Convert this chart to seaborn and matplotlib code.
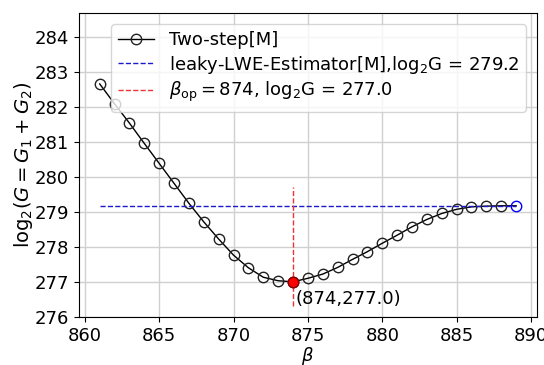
import matplotlib
matplotlib.use("Agg")
import matplotlib.pyplot as plt
import seaborn as sns
import numpy as np

# Daten: beta und log2(G) fuer Two-step[M]
beta = [861, 862, 863, 864, 865, 866, 867, 868, 869, 870,
        871, 872, 873, 874, 875, 876, 877, 878, 879, 880,
        881, 882, 883, 884, 885, 886, 887, 888, 889]
log_g = [282.65, 282.08, 281.53, 280.95, 280.38, 279.81, 279.24, 278.71, 278.22, 277.76,
         277.40, 277.13, 277.03, 277.00, 277.10, 277.22, 277.41, 277.64, 277.86, 278.10,
         278.33, 278.57, 278.78, 278.95, 279.07, 279.14, 279.16, 279.17, 279.17]

# leaky-LWE-Estimator Wert (horizontale Linie)
leaky_beta = [861, 889]
leaky_log_g = [279.17, 279.17]

# optimaler Punkt
beta_op = 874
log_g_op = 277.0
vline_range = [276.3, 279.7]

plt.rcParams["font.size"] = 13

fig = plt.figure(figsize=(5.44, 3.65), dpi=100)
ax = fig.add_axes([0.145, 0.132, 0.842, 0.832])

# Two-step Kurve mit offenen Kreisen (letzter Punkt blau)
sns.lineplot(x=beta, y=log_g, ax=ax, color="black", linewidth=1,
             marker="o", markersize=7.5, markerfacecolor="none",
             markeredgecolor="#222222", markeredgewidth=1,
             markevery=list(range(len(beta) - 1)),
             label="Two-step[M]")

# leaky-LWE-Estimator als gestrichelte Linie
sns.lineplot(x=leaky_beta, y=leaky_log_g, ax=ax, color="#1a1acc", linewidth=1,
             linestyle="--",
             label=r"leaky-LWE-Estimator[M],log$_2$G = 279.2")
ax.plot(leaky_beta[1], leaky_log_g[1], "o", markersize=7.5,
        markerfacecolor="none", markeredgecolor="blue", markeredgewidth=1)

# vertikale Linie beim Optimum
ax.vlines(beta_op, vline_range[0], vline_range[1], colors="#ee3333",
          linestyles="--", linewidth=1,
          label=r"$\beta_{\rm op}=874$, log$_2$G = 277.0")
ax.plot(beta_op, log_g_op, "o", markersize=7.5, markerfacecolor="red",
        markeredgecolor="#880000", markeredgewidth=1, zorder=5)
ax.text(beta_op + 0.15, log_g_op - 0.5, f"({beta_op},{log_g_op:.1f})",
        ha="left", va="center", fontsize=13)

ax.set_xlim(859.6, 890.4)
ax.set_ylim(276, 284.67)
ax.set_xticks([860, 865, 870, 875, 880, 885, 890])
ax.set_yticks(np.arange(276, 285, 1))
ax.set_xlabel(r"$\beta$", labelpad=0, fontsize=13)
ax.set_ylabel(r"log$_2(G=G_1+G_2)$", labelpad=0, fontsize=14)
ax.grid(True, color="#d0d0d0", linewidth=1)
ax.set_axisbelow(True)
ax.legend(loc="upper right", fontsize=13, labelspacing=0.25,
          borderaxespad=0.6)

fig.savefig("out.png", dpi=100)
